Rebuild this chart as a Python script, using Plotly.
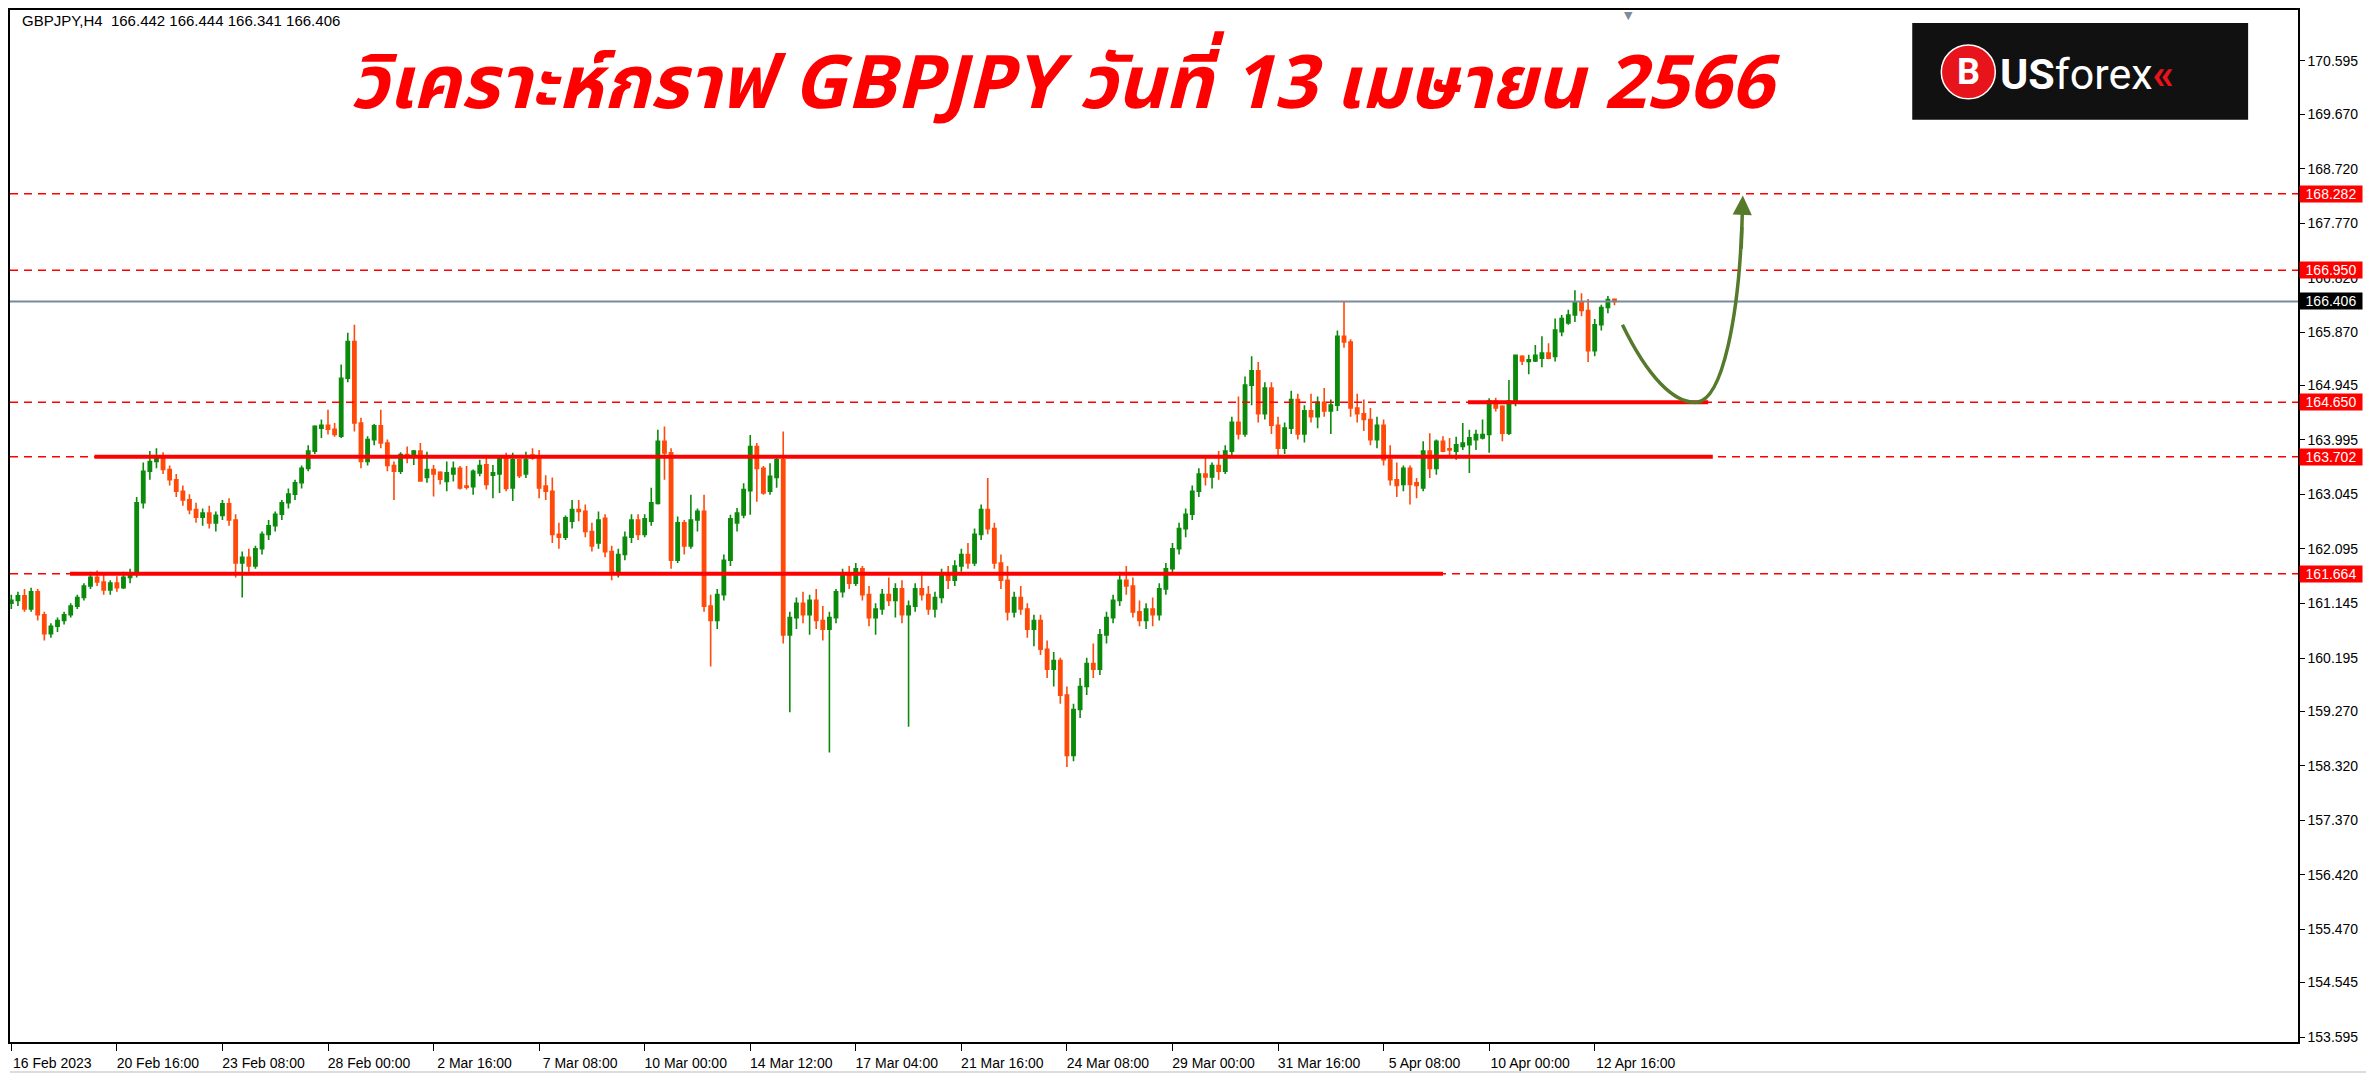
import plotly.graph_objects as go

# ---------------- data ----------------
OPEN = [
161.15,161.20,161.28,161.05,161.35,160.95,160.62,160.75,160.85,160.95,
161.10,161.25,161.45,161.60,161.52,161.38,161.50,161.42,161.60,161.68,
162.90,163.45,163.62,163.70,163.48,163.30,163.10,162.95,162.78,162.65,
162.72,162.55,162.68,162.88,162.60,161.85,161.95,161.80,162.10,162.35,
162.50,162.70,162.90,163.05,163.25,163.50,163.80,164.20,164.25,164.18,
164.06,165.07,165.71,164.29,163.62,164.00,164.24,163.94,163.55,163.45,
163.74,163.71,163.80,163.34,163.48,163.43,163.27,163.40,163.50,163.19,
163.18,163.42,163.56,163.38,163.40,163.71,163.16,163.65,163.40,163.73,
163.72,163.19,163.10,162.35,162.30,162.58,162.78,162.75,162.40,162.20,
162.63,162.05,161.70,162.00,162.30,162.60,162.35,162.58,162.89,163.97,
163.77,161.90,162.55,162.15,162.60,162.75,161.10,160.85,161.30,161.90,
162.55,162.69,163.11,163.88,163.50,163.10,163.34,163.65,160.60,160.90,
161.15,160.95,161.20,160.85,160.70,160.90,161.35,161.65,161.50,161.75,
161.30,160.90,161.05,161.30,161.20,161.40,160.95,161.10,161.40,161.30,
161.05,161.25,161.65,161.55,161.80,162.00,161.85,162.35,162.78,162.45,
161.85,161.55,161.00,161.25,161.05,160.70,160.85,160.35,160.00,160.15,
159.55,158.50,159.30,159.70,160.10,160.00,160.60,160.90,161.20,161.55,
161.45,161.00,160.85,161.05,160.95,161.40,161.75,162.10,162.45,162.70,
163.10,163.40,163.35,163.55,163.45,163.80,164.30,164.10,164.95,165.20,
164.45,164.90,164.25,163.85,164.20,164.70,164.10,164.50,164.40,164.65,
164.50,164.60,165.80,165.70,164.55,164.45,164.35,164.00,164.25,163.65,
163.30,163.22,163.50,163.25,163.16,163.80,163.50,163.97,163.84,163.80,
163.88,163.91,164.00,164.03,164.09,164.67,164.58,164.11,164.68,165.45,
165.36,165.37,165.42,165.51,165.45,165.88,166.03,166.17,166.40,166.25,
165.55,166.00,166.30,166.442]
HIGH = [
161.30,161.35,161.40,161.42,161.40,161.00,160.80,160.90,161.00,161.15,
161.30,161.50,161.70,161.72,161.65,161.55,161.62,161.70,161.75,163.00,
163.60,163.80,163.85,163.78,163.55,163.40,163.20,163.05,162.90,162.80,
162.85,162.75,162.95,162.98,162.70,162.05,162.10,162.15,162.40,162.60,
162.75,162.95,163.15,163.30,163.55,163.90,164.25,164.35,164.52,164.29,
165.31,165.86,166.00,164.38,164.06,164.27,164.52,164.00,163.62,163.78,
163.88,163.82,163.94,163.79,163.56,163.45,163.62,163.62,163.54,163.54,
163.48,163.65,163.68,163.56,163.71,163.77,163.77,163.66,163.79,163.85,
163.82,163.38,163.34,162.55,162.68,162.95,162.95,162.87,162.55,162.75,
162.70,162.15,162.10,162.40,162.70,162.70,162.70,163.16,164.17,164.23,
163.85,162.66,162.60,163.04,162.80,163.04,161.30,161.40,162.00,162.69,
162.81,163.24,164.08,163.94,163.54,163.59,163.68,164.14,161.00,161.25,
161.35,161.30,161.40,161.10,161.00,161.40,161.75,161.80,161.85,161.80,
161.45,161.15,161.40,161.60,161.50,161.55,161.20,161.50,161.70,161.45,
161.35,161.75,161.80,161.90,162.10,162.20,162.45,162.87,163.33,162.55,
162.00,161.80,161.35,161.45,161.15,160.95,160.95,160.50,160.30,160.20,
159.70,159.40,159.85,160.20,160.45,160.70,161.00,161.30,161.70,161.80,
161.60,161.20,161.15,161.25,161.50,161.85,162.20,162.55,162.80,163.20,
163.50,163.70,163.60,163.80,163.90,164.40,164.75,165.10,165.45,165.35,
165.00,165.00,164.40,164.30,164.85,164.80,164.60,164.80,164.75,164.90,
164.70,165.90,166.40,165.75,164.80,164.70,164.55,164.40,164.35,163.90,
163.60,163.55,163.55,163.33,163.97,164.11,164.00,164.06,164.03,164.05,
164.29,164.17,164.17,164.35,164.72,164.73,164.60,165.04,165.48,165.47,
165.48,165.65,165.80,165.68,166.11,166.17,166.26,166.60,166.55,166.45,
166.10,166.35,166.50,166.444]
LOW = [
161.05,161.10,161.00,161.00,160.85,160.50,160.55,160.65,160.78,160.90,
161.05,161.20,161.40,161.45,161.30,161.30,161.35,161.40,161.50,161.60,
162.80,163.30,163.50,163.40,163.20,163.00,162.85,162.70,162.55,162.50,
162.45,162.40,162.60,162.50,161.60,161.25,161.70,161.75,162.00,162.25,
162.40,162.60,162.80,162.95,163.15,163.45,163.75,164.03,164.09,164.05,
164.03,165.00,164.14,163.50,163.55,163.90,163.85,163.45,162.95,163.40,
163.59,163.56,163.27,163.25,163.01,163.22,163.10,163.27,163.13,163.13,
163.04,163.36,163.13,162.98,163.07,163.10,162.93,163.33,163.33,163.65,
162.98,162.95,162.20,162.10,162.25,162.45,162.58,162.30,162.05,162.10,
161.95,161.55,161.60,161.90,162.20,162.25,162.30,162.50,162.87,163.30,
161.75,161.85,162.00,162.10,162.40,161.00,160.05,160.70,161.20,161.80,
162.40,162.63,162.69,162.92,163.04,163.04,163.16,160.45,159.25,160.70,
160.80,160.60,160.70,160.50,158.55,160.80,161.25,161.40,161.45,161.20,
160.75,160.60,160.95,161.10,160.90,160.80,159.00,161.00,161.20,160.95,
160.90,161.15,161.40,161.45,161.70,161.75,161.80,162.25,162.35,161.75,
161.40,160.85,160.90,160.95,160.55,160.40,160.25,159.85,159.70,159.40,
158.30,158.40,159.15,159.55,159.85,159.90,160.45,160.80,161.10,161.30,
160.90,160.75,160.70,160.75,160.85,161.30,161.65,162.00,162.30,162.60,
163.00,163.20,163.15,163.30,163.40,163.70,164.00,164.05,164.60,164.30,
164.35,164.10,163.70,163.75,164.10,164.00,163.95,164.30,164.20,164.40,
164.10,164.50,165.60,164.40,164.30,164.15,163.90,163.85,163.55,163.20,
163.00,163.10,162.87,162.98,163.10,163.33,163.39,163.78,163.68,163.65,
163.82,163.42,163.82,164.00,163.77,164.49,163.97,164.08,164.58,165.30,
165.14,165.35,165.26,165.40,165.36,165.80,166.00,166.05,166.15,165.35,
165.45,165.90,166.20,166.341]
CLOSE = [
161.20,161.28,161.05,161.35,160.95,160.62,160.75,160.85,160.95,161.10,
161.25,161.45,161.60,161.52,161.38,161.50,161.42,161.60,161.68,162.90,
163.45,163.62,163.70,163.48,163.30,163.10,162.95,162.78,162.65,162.72,
162.55,162.68,162.88,162.60,161.85,161.95,161.80,162.10,162.35,162.50,
162.70,162.90,163.05,163.25,163.50,163.80,164.23,164.25,164.18,164.09,
165.07,165.71,164.29,163.62,164.00,164.24,163.94,163.55,163.45,163.74,
163.71,163.80,163.28,163.48,163.40,163.31,163.42,163.50,163.16,163.17,
163.45,163.55,163.22,163.42,163.68,163.15,163.65,163.37,163.65,163.68,
163.16,163.10,162.35,162.30,162.64,162.78,162.75,162.40,162.15,162.60,
162.05,161.70,162.00,162.30,162.60,162.35,162.62,162.90,163.97,163.77,
161.90,162.55,162.15,162.60,162.75,161.10,160.85,161.30,161.90,162.62,
162.72,163.13,163.88,163.50,163.07,163.36,163.65,160.60,160.90,161.15,
160.95,161.20,160.85,160.70,160.90,161.35,161.65,161.50,161.75,161.30,
160.90,161.05,161.30,161.20,161.40,160.95,161.10,161.40,161.30,161.05,
161.25,161.65,161.55,161.80,162.00,161.85,162.35,162.78,162.45,161.85,
161.55,161.00,161.25,161.05,160.70,160.85,160.35,160.00,160.15,159.55,
158.50,159.30,159.70,160.10,160.00,160.60,160.90,161.20,161.55,161.45,
161.00,160.85,161.05,160.95,161.40,161.75,162.10,162.45,162.70,163.10,
163.40,163.35,163.55,163.45,163.80,164.30,164.10,164.95,165.20,164.45,
164.90,164.25,163.85,164.20,164.70,164.10,164.50,164.40,164.65,164.50,
164.60,165.80,165.70,164.55,164.45,164.35,164.00,164.25,163.65,163.30,
163.20,163.50,163.22,163.20,163.80,163.50,163.97,163.80,163.82,163.91,
163.94,164.03,164.09,164.09,164.67,164.55,164.11,164.67,165.47,165.37,
165.39,165.47,165.51,165.42,165.91,166.11,166.17,166.40,166.25,165.55,
166.00,166.30,166.44,166.406]

TICK_BARS = [0, 16, 32, 48, 64, 80, 96, 112, 128, 144, 160, 176, 192, 208, 224, 240]
TICK_LABELS = ["16 Feb 2023", "20 Feb 16:00", "23 Feb 08:00", "28 Feb 00:00",
               "2 Mar 16:00", "7 Mar 08:00", "10 Mar 00:00", "14 Mar 12:00",
               "17 Mar 04:00", "21 Mar 16:00", "24 Mar 08:00", "29 Mar 00:00",
               "31 Mar 16:00", "5 Apr 08:00", "10 Apr 00:00", "12 Apr 16:00"]
PRICE_TICKS = [170.595, 169.670, 168.720, 167.770, 166.820, 165.870, 164.945,
               163.995, 163.045, 162.095, 161.145, 160.195, 159.270, 158.320,
               157.370, 156.420, 155.470, 154.545, 153.595]
LEVELS = [168.282, 166.950, 164.650, 163.702, 161.664]
CURRENT_PRICE = 166.406
# solid support/resistance segments: (level, first bar, last bar)
SEGMENTS = [(164.650, 220.8, 257.2), (163.702, 12.6, 257.9), (161.664, 8.9, 217.0)]

TITLE = "วิเคราะห์กราฟ GBPJPY วันที่ 13 เมษายน 2566"
HEADER = "GBPJPY,H4  166.442 166.444 166.341 166.406"

# ---------------- figure ----------------
bars = list(range(len(CLOSE)))
RED = "#ff0000"
UP = "#0b8a0b"
DOWN = "#ff4a0a"
AXFONT = dict(family="Liberation Sans, Arial, sans-serif", size=14, color="#000000")

fig = go.Figure()
fig.add_trace(go.Candlestick(
    x=bars, open=OPEN, high=HIGH, low=LOW, close=CLOSE,
    increasing=dict(line=dict(color=UP, width=1.6), fillcolor=UP),
    decreasing=dict(line=dict(color=DOWN, width=1.6), fillcolor=DOWN),
    whiskerwidth=0, hoverinfo="skip", showlegend=False))

shapes = []
for lv in LEVELS:
    shapes.append(dict(type="line", xref="paper", x0=0, x1=1, yref="y", y0=lv, y1=lv,
                       line=dict(color=RED, width=1.6, dash="8px,6px")))
shapes.append(dict(type="line", xref="paper", x0=0, x1=1, yref="y",
                   y0=CURRENT_PRICE, y1=CURRENT_PRICE,
                   line=dict(color="#7b8a99", width=2)))
for lv, b0, b1 in SEGMENTS:
    shapes.append(dict(type="line", xref="x", x0=b0, x1=b1, yref="y", y0=lv, y1=lv,
                       line=dict(color=RED, width=4)))
# curved forecast arrow
ARROW = "#557a2c"
shapes.append(dict(type="path", xref="x", yref="y",
                   path="M 244.2,166.0 C 248,165.1 252,164.62 255.5,164.65 "
                        "C 259.5,164.7 261.8,166.2 262.3,167.7",
                   line=dict(color=ARROW, width=3.5)))
# logo box
shapes.append(dict(type="rect", xref="paper", yref="paper",
                   x0=0.8314, x1=0.9782, y0=0.8936, y1=0.9874,
                   fillcolor="#111111", line=dict(width=0), layer="above"))
shapes.append(dict(type="circle", xref="paper", yref="paper",
                   x0=0.8441, x1=0.8677, y0=0.9139, y1=0.9661,
                   fillcolor="#e8141b", line=dict(color="#ffffff", width=1.5), layer="above"))
# window bottom line
shapes.append(dict(type="line", xref="paper", yref="paper", x0=0, x1=1.04,
                   y0=-0.029, y1=-0.029, line=dict(color="#d0d0d0", width=1.5)))

annotations = []
annotations.append(dict(xref="x", yref="y", x=262.45, y=168.25, ax=262.2, ay=167.3,
                        axref="x", ayref="y", text="", showarrow=True, arrowhead=2,
                        arrowsize=1.1, arrowwidth=3.5, arrowcolor=ARROW))
for lv in LEVELS:
    annotations.append(dict(xref="paper", yref="y", x=1, y=lv, xanchor="left", xshift=1,
                            text=f"{lv:.3f}", showarrow=False, bgcolor=RED,
                            font=dict(family="Liberation Sans, Arial, sans-serif", size=14,
                                      color="#ffffff"),
                            width=62, height=16, borderpad=0))
annotations.append(dict(xref="paper", yref="y", x=1, y=CURRENT_PRICE, xanchor="left", xshift=1,
                        text=f"{CURRENT_PRICE:.3f}", showarrow=False, bgcolor="#000000",
                        font=dict(family="Liberation Sans, Arial, sans-serif", size=14,
                                  color="#ffffff"),
                        width=62, height=16, borderpad=0))
annotations.append(dict(xref="paper", yref="paper", x=0.0044, y=0.9903, xanchor="left",
                        yanchor="middle", text=HEADER, showarrow=False,
                        font=dict(family="Liberation Sans, Arial, sans-serif", size=15,
                                  color="#000000")))
annotations.append(dict(xref="paper", yref="paper", x=0.461, y=0.9275, xanchor="center",
                        yanchor="middle", text=f"<b><i>{TITLE}</i></b>", showarrow=False,
                        font=dict(family="Noto Sans Thai, Noto Sans Thai Looped, Loma, Garuda, Noto Sans, sans-serif",
                                  size=74, color=RED)))
annotations.append(dict(xref="paper", yref="paper", x=0.8559, y=0.94, xanchor="center",
                        yanchor="middle", text="<b>B</b>", showarrow=False,
                        font=dict(family="Roboto, Liberation Sans, sans-serif", size=36,
                                  color="#ffffff")))
annotations.append(dict(xref="paper", yref="paper", x=0.869, y=0.938, xanchor="left",
                        yanchor="middle",
                        text="<b>US</b>forex<span style='color:#e8141b'><b>«</b></span>",
                        showarrow=False,
                        font=dict(family="Roboto, Liberation Sans, sans-serif", size=43,
                                  color="#ffffff")))
annotations.append(dict(xref="paper", yref="paper", x=0.7074, y=1, xanchor="center",
                        yanchor="top", yshift=3, text="▼", showarrow=False,
                        font=dict(family="DejaVu Sans", size=11, color="#7f8c99")))

fig.update_layout(
    width=2374, height=1080,
    margin=dict(l=0, r=84, t=0, b=46),
    paper_bgcolor="#ffffff", plot_bgcolor="#ffffff",
    shapes=shapes, annotations=annotations, showlegend=False,
    xaxis=dict(range=[-0.2, 346.6], tickmode="array", tickvals=TICK_BARS,
               ticktext=TICK_LABELS, ticks="outside", ticklen=7, tickcolor="#000000",
               tickfont=AXFONT, ticklabelshift=41, showgrid=False, zeroline=False,
               showline=True, linecolor="#000000", linewidth=1.5, mirror=True,
               rangeslider=dict(visible=False)),
    yaxis=dict(range=[153.508, 171.483], side="right", tickmode="array",
               tickvals=PRICE_TICKS, ticktext=[f"{v:.3f}" for v in PRICE_TICKS],
               ticks="outside", ticklen=5, tickcolor="#000000", tickfont=AXFONT,
               showgrid=False, zeroline=False, showline=True, linecolor="#000000",
               linewidth=1.5, mirror=True),
)

fig.write_html("out.html")
